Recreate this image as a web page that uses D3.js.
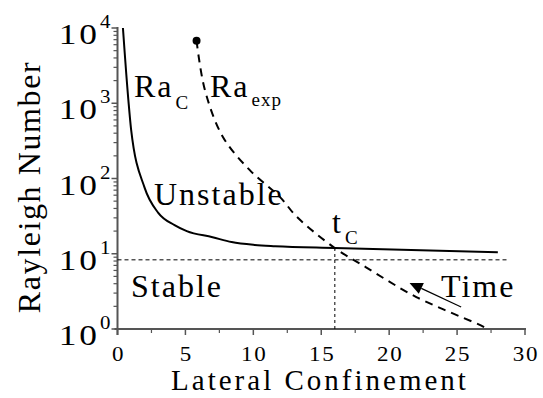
<!DOCTYPE html>
<html>
<head>
<meta charset="utf-8">
<script src="https://cdn.jsdelivr.net/npm/d3@7"></script>
<style>
  html, body { margin: 0; padding: 0; background: #fff; }
  svg text { font-family: "Liberation Serif", "Times New Roman", serif; fill: #000; }
</style>
</head>
<body>
<svg id="chart" width="543" height="398"></svg>
<script>
// ---- data ----
const raCx = [0.4, 0.8, 1.0, 2.0, 3.0, 4.2, 5.1, 7.0, 8.4, 10.1, 11.6, 16.0, 28.0];
const raCy = [10000, 1100, 450, 75, 35, 24, 20, 16.6, 14.3, 13.1, 12.6, 11.9, 10.5];
const raExpX = [5.82, 6.43, 7.76, 9.74, 11.95, 13.2, 16.0, 18.3, 22.0, 27.0, 27.2];
const raExpY = [6770, 1510, 357, 129, 57, 31, 11.9, 6.6, 2.66, 1.06, 1.0];
const threshold = 8.3;
const thresholdEnd = 28.7;
const tC = 16.0;
const tCRa = 11.9;
const arrowFrom = [25.3, 1.96];
const arrowTo = [21.5, 4.1];
const xTicks = [0, 5, 10, 15, 20, 25, 30];
const xMinorTicks = [2.5, 7.5, 12.5, 17.5, 22.5, 27.5];
const yExponents = [0, 1, 2, 3, 4];
const xTitle = "Lateral Confinement";
const yTitle = "Rayleigh Number";

// ---- layout ----
const svg = d3.select("#chart");
const x = d3.scaleLinear().domain([0, 30]).range([117.5, 525]);
const y = d3.scaleLog().domain([1, 10000]).range([329, 28]);
const axisColor = "#555";

const yMinor = [];
for (let e = 0; e < 4; e++) for (let m = 2; m <= 9; m++) yMinor.push(m * Math.pow(10, e));

const g = svg.append("g");

// axes lines
g.append("line").attr("x1", x(0)).attr("x2", x(0)).attr("y1", y(10000) - 1).attr("y2", y(1) + 6)
  .attr("stroke", axisColor).attr("stroke-width", 2);
g.append("line").attr("x1", x(0) - 3).attr("x2", x(30) + 1).attr("y1", y(1)).attr("y2", y(1))
  .attr("stroke", axisColor).attr("stroke-width", 2);

// y ticks
g.selectAll(".ymaj").data(yExponents).enter().append("line")
  .attr("x1", x(0) - 6).attr("x2", x(0)).attr("y1", d => y(Math.pow(10, d))).attr("y2", d => y(Math.pow(10, d)))
  .attr("stroke", axisColor).attr("stroke-width", 1.5);
g.selectAll(".ymin").data(yMinor).enter().append("line")
  .attr("x1", x(0) - 4).attr("x2", x(0)).attr("y1", d => y(d)).attr("y2", d => y(d))
  .attr("stroke", axisColor).attr("stroke-width", 1.2);

// x ticks
g.selectAll(".xmaj").data(xTicks).enter().append("line")
  .attr("x1", d => x(d)).attr("x2", d => x(d)).attr("y1", y(1)).attr("y2", y(1) + 6)
  .attr("stroke", axisColor).attr("stroke-width", 1.5);
g.selectAll(".xmin").data(xMinorTicks).enter().append("line")
  .attr("x1", d => x(d)).attr("x2", d => x(d)).attr("y1", y(1)).attr("y2", y(1) + 4)
  .attr("stroke", axisColor).attr("stroke-width", 1.2);

// x tick labels
g.selectAll(".xlab").data(xTicks).enter().append("text")
  .attr("transform", d => `translate(${x(d) + 1},361) scale(1.15,1)`).attr("text-anchor", "middle")
  .attr("font-size", 20).attr("letter-spacing", 1.5).text(d => d);

// y tick labels: 10^n
yExponents.forEach(e => {
  g.append("text").attr("transform", `translate(100,${y(Math.pow(10, e)) + 16}) scale(1.18,1)`)
    .attr("text-anchor", "end").attr("font-size", 30).attr("letter-spacing", 2.5).text("10");
  g.append("text").attr("transform", `translate(100,${y(Math.pow(10, e)) + 0}) scale(1.1,1)`)
    .attr("font-size", 19).text(e);
});

// titles
g.append("text").attr("x", 320).attr("y", 390).attr("text-anchor", "middle")
  .attr("font-size", 29).attr("letter-spacing", 3).text(xTitle);
g.append("text").attr("transform", "translate(40,187) rotate(-90)").attr("text-anchor", "middle")
  .attr("font-size", 32).attr("letter-spacing", 1.6).text(yTitle);

// threshold dashed line
g.append("line").attr("x1", x(0)).attr("x2", x(thresholdEnd)).attr("y1", y(threshold)).attr("y2", y(threshold))
  .attr("stroke", "#000").attr("stroke-width", 1).attr("stroke-dasharray", "4,3");
// tc dotted vertical
g.append("line").attr("x1", x(tC)).attr("x2", x(tC)).attr("y1", y(1)).attr("y2", y(tCRa))
  .attr("stroke", "#000").attr("stroke-width", 1).attr("stroke-dasharray", "3,3");

// Ra_C curve
const raC = raCx.map((v, i) => [v, raCy[i]]);
g.append("path").datum(raC)
  .attr("d", d3.line().x(d => x(d[0])).y(d => y(d[1])).curve(d3.curveMonotoneX))
  .attr("fill", "none").attr("stroke", "#000").attr("stroke-width", 2);

// Ra_exp curve
const raExp = raExpX.map((v, i) => [v, raExpY[i]]);
g.append("path").datum(raExp)
  .attr("d", d3.line().x(d => x(d[0])).y(d => y(d[1])).curve(d3.curveCatmullRom))
  .attr("fill", "none").attr("stroke", "#000").attr("stroke-width", 2).attr("stroke-dasharray", "8,6");
g.append("circle").attr("cx", x(raExp[0][0])).attr("cy", y(raExp[0][1])).attr("r", 4).attr("fill", "#000");

// time arrow
const ax1 = x(arrowFrom[0]), ay1 = y(arrowFrom[1]);
const ax2 = x(arrowTo[0]), ay2 = y(arrowTo[1]);
const ang = Math.atan2(ay2 - ay1, ax2 - ax1);
const hl = 13, hw = 6;
const bx = ax2 - hl * Math.cos(ang), by = ay2 - hl * Math.sin(ang);
g.append("line").attr("x1", ax1).attr("y1", ay1).attr("x2", bx).attr("y2", by)
  .attr("stroke", "#000").attr("stroke-width", 1.2);
g.append("path").attr("d", `M${ax2},${ay2} L${bx - hw * Math.sin(ang)},${by + hw * Math.cos(ang)} L${bx + hw * Math.sin(ang)},${by - hw * Math.cos(ang)} Z`)
  .attr("fill", "#000");

// annotations
function label(px, py, main, sub, size, subSize, subDy) {
  const t = g.append("text").attr("x", px).attr("y", py).attr("font-size", size).attr("letter-spacing", 2);
  t.append("tspan").text(main);
  if (sub) t.append("tspan").attr("font-size", subSize).attr("dy", subDy).attr("dx", 2).attr("letter-spacing", 1).text(sub);
}
label(134, 97, "Ra", "C", 32, 19, 12);
label(210, 97, "Ra", "exp", 32, 19, 9);
label(154, 205, "Unstable", null, 32);
label(131, 297, "Stable", null, 32);
label(441, 297, "Time", null, 32);
label(332, 233, "t", "C", 32, 19, 11);
</script>
</body>
</html>
